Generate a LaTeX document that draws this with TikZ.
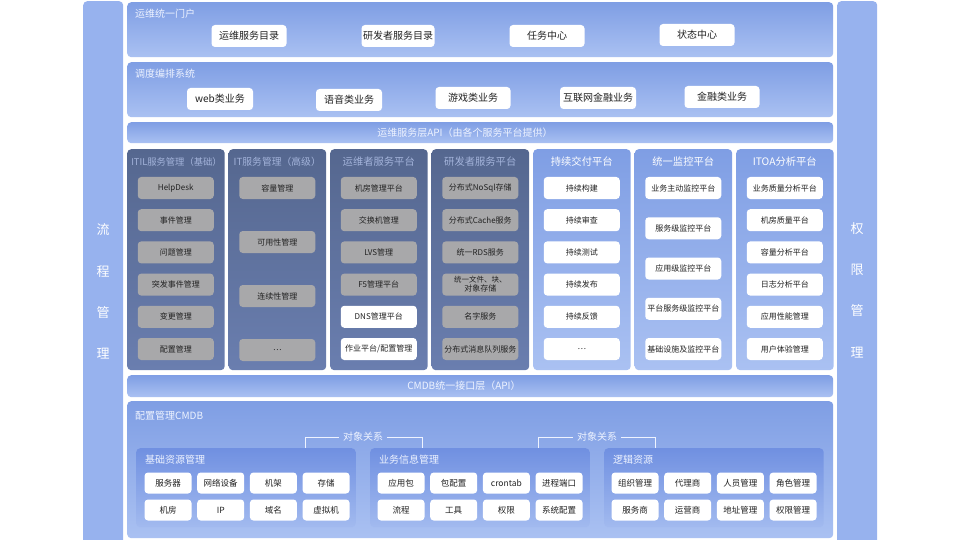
\documentclass[tikz,border=0pt]{standalone}
\usepackage{fontspec}
\setmainfont{Noto Sans CJK SC}
\usepackage{tikz}
\usetikzlibrary{positioning,calc}
\definecolor{sideblue}{HTML}{97B2EE}
\definecolor{ptop}{HTML}{7F9EE4}
\definecolor{pbot}{HTML}{AAC1F2}
\definecolor{dtop}{HTML}{55678F}
\definecolor{dbot}{HTML}{6A7EAF}
\definecolor{gtop}{HTML}{7090E1}
\definecolor{gbot}{HTML}{A2BAEF}
\definecolor{itemgray}{HTML}{A8A8AA}
\definecolor{ink}{HTML}{222222}
\definecolor{dim}{HTML}{A3B3DA}
\definecolor{soft}{HTML}{EEF3FF}
\tikzset{sidebar/.style={fill=sideblue,rounded corners=4pt,minimum width=40,minimum height=545,anchor=north west,inner sep=0pt},vtxt/.style={text=white,align=center,font=\fontsize{13}{41.3}\selectfont},band/.style={rounded corners=4pt,top color=ptop,bottom color=pbot,minimum width=706,anchor=north west,inner sep=0pt},col/.style={rounded corners=4pt,minimum width=97.5,minimum height=221,anchor=north west,inner sep=0pt},darkcol/.style={col,top color=dtop,bottom color=dbot},lightcol/.style={col,top color=ptop,bottom color=pbot},item/.style={rounded corners=3.5pt,minimum height=22,inner sep=1pt,align=center,text=ink},wbox/.style={item,fill=white},gbox/.style={item,fill=itemgray},topi/.style={font=\fontsize{10}{12}\selectfont},cbox/.style={minimum width=76,font=\fontsize{8}{9}\selectfont},gitem/.style={wbox,minimum width=47,minimum height=21,font=\fontsize{8.5}{10}\selectfont},ttl/.style={anchor=west,text=soft,font=\fontsize{10}{12}\selectfont,inner sep=0pt},hdr/.style={font=\fontsize{10.3}{12}\selectfont,inner sep=0pt},grp/.style={rounded corners=4pt,top color=gtop,bottom color=gbot,minimum width=219.5,minimum height=79,anchor=north west,inner sep=0pt},gttl/.style={ttl,font=\fontsize{10}{12}\selectfont},rel/.style={draw=soft,line width=0.6pt},reltxt/.style={text=soft,font=\fontsize{10}{12}\selectfont,inner sep=4pt}}
\begin{document}
\begin{tikzpicture}[x=1pt,y=-1pt]
\useasboundingbox (0,0) rectangle (960,540);
\node[sidebar] (lb) at (83,1) {};\node[sidebar] (rb) at (837,1) {};
\node[vtxt] (lbt) at (103,291.5) {流\\程\\管\\理};\node[vtxt] (rbt) at (857,290) {权\\限\\管\\理};
\node[band,minimum height=55] (portal) at (127,2) {};
\node[ttl] (portalt) at ($(portal.north west)+(8,12)$) {运维统一门户};
\node[wbox,topi,minimum width=75] (p1) at (249,36) {运维服务目录};
\node[wbox,topi,minimum width=73] (p2) at (398,36) {研发者服务目录};
\node[wbox,topi,minimum width=75] (p3) at (547,36) {任务中心};
\node[wbox,topi,minimum width=75] (p4) at (697,35) {状态中心};
\node[band,minimum height=55] (sched) at (127,62) {};
\node[ttl] (schedt) at ($(sched.north west)+(8,12)$) {调度编排系统};
\node[wbox,topi,minimum width=66] (s1) at (220,99) {web类业务};
\node[wbox,topi,minimum width=66] (s2) at (349,100) {语音类业务};
\node[wbox,topi,minimum width=75] (s3) at (473,98) {游戏类业务};
\node[wbox,topi,minimum width=76] (s4) at (598,98) {互联网金融业务};
\node[wbox,topi,minimum width=75] (s5) at (722,97) {金融类业务};
\node[band,minimum height=21] (api) at (127,122) {};
\node[reltxt,inner sep=0pt] (apit) at (465,132.5) {运维服务层API（由各个服务平台提供）};
\node[darkcol] (c1) at (127,149) {};\node[darkcol] (c2) at (228.5,149) {};\node[darkcol] (c3) at (330,149) {};\node[darkcol] (c4) at (431.5,149) {};
\node[lightcol] (c5) at (533,149) {};\node[lightcol] (c6) at (634.5,149) {};\node[lightcol] (c7) at (736,149) {};
\node[hdr,text=dim,font=\fontsize{9.3}{12}\selectfont] (h1) at (176.5,162) {ITIL服务管理（基础）};
\node[hdr,text=dim,font=\fontsize{9.8}{12}\selectfont] (h2) at (277.25,162) {IT服务管理（高级）};
\node[hdr,text=dim] (h3) at (378.75,162) {运维者服务平台};
\node[hdr,text=dim] (h4) at (480.25,162) {研发者服务平台};
\node[hdr,text=white] (h5) at (581.75,162) {持续交付平台};
\node[hdr,text=white] (h6) at (683.25,162) {统一监控平台};
\node[hdr,text=white] (h7) at (784.75,162) {ITOA分析平台};
\foreach \t [count=\i] in {HelpDesk,事件管理,问题管理,突发事件管理,变更管理,配置管理} \node[gbox,cbox] (a\i) at (175.75,{188+32.2*(\i-1)}) {\t};
\foreach \t [count=\i] in {容量管理,可用性管理,连续性管理,…} \node[gbox,cbox] (b\i) at (277.25,{188+54*(\i-1)}) {\t};
\foreach \t [count=\i] in {机房管理平台,交换机管理,LVS管理,F5管理平台} \node[gbox,cbox] (o\i) at (378.75,{188+32.2*(\i-1)}) {\t};
\node[wbox,cbox] (o5) at (378.75,316.8) {DNS管理平台};
\node[wbox,cbox] (o6) at (378.75,349) {作业平台/配置管理};
\foreach \t [count=\i] in {分布式NoSql存储,分布式Cache服务,统一RDS服务,{\fontsize{7.5}{8.5}\selectfont 统一文件、块、\\对象存储},名字服务,分布式消息队列服务} \node[gbox,cbox] (d\i) at (480.25,{188+32.2*(\i-1)}) {\t};
\foreach \t [count=\i] in {持续构建,持续审查,持续测试,持续发布,持续反馈,…} \node[wbox,cbox] (e\i) at (581.75,{188+32.2*(\i-1)}) {\t};
\foreach \t [count=\i] in {业务主动监控平台,服务级监控平台,应用级监控平台,平台服务级监控平台,基础设施及监控平台} \node[wbox,cbox] (m\i) at (683.25,{188+40.25*(\i-1)}) {\t};
\foreach \t [count=\i] in {业务质量分析平台,机房质量平台,容量分析平台,日志分析平台,应用性能管理,用户体验管理} \node[wbox,cbox] (t\i) at (784.75,{188+32.2*(\i-1)}) {\t};
\node[band,minimum height=22] (capi) at (127,375) {};
\node[reltxt,inner sep=0pt] (capit) at (464,386) {CMDB统一接口层（API）};
\node[band,minimum height=137] (cmdb) at (127,401) {};
\node[ttl] (cmdbt) at ($(cmdb.north west)+(8,15)$) {配置管理CMDB};
\node[grp] (g1) at (136,448) {};\node[grp] (g2) at (370,448) {};\node[grp] (g3) at (604,448) {};
\node[gttl] (g1t) at ($(g1.north west)+(9,12)$) {基础资源管理};
\node[gttl] (g2t) at ($(g2.north west)+(9,12)$) {业务信息管理};
\node[gttl] (g3t) at ($(g3.north west)+(9,12)$) {逻辑资源};
\foreach \t [count=\i] in {服务器,网络设备,机架,存储} \node[gitem] (ba\i) at ({115.3+52.7*\i},483) {\t};
\foreach \t [count=\i] in {机房,IP,域名,虚拟机} \node[gitem] (bb\i) at ({115.3+52.7*\i},510) {\t};
\foreach \t [count=\i] in {应用包,包配置,crontab,进程端口} \node[gitem] (ya\i) at ({348.3+52.7*\i},483) {\t};
\foreach \t [count=\i] in {流程,工具,权限,系统配置} \node[gitem] (yb\i) at ({348.3+52.7*\i},510) {\t};
\foreach \t [count=\i] in {组织管理,代理商,人员管理,角色管理} \node[gitem] (la\i) at ({582.3+52.7*\i},483) {\t};
\foreach \t [count=\i] in {服务商,运营商,地址管理,权限管理} \node[gitem] (lb\i) at ({582.3+52.7*\i},510) {\t};
\node[reltxt] (rel1) at (363,437) {对象关系};\node[reltxt] (rel2) at (597,437) {对象关系};
\coordinate (r1a) at (305,448);\coordinate (r1b) at (422,448);\coordinate (r2a) at (538,448);\coordinate (r2b) at (655,448);
\draw[rel] (rel1.west) -| (r1a);\draw[rel] (rel1.east) -| (r1b);\draw[rel] (rel2.west) -| (r2a);\draw[rel] (rel2.east) -| (r2b);
\end{tikzpicture}
\end{document}
